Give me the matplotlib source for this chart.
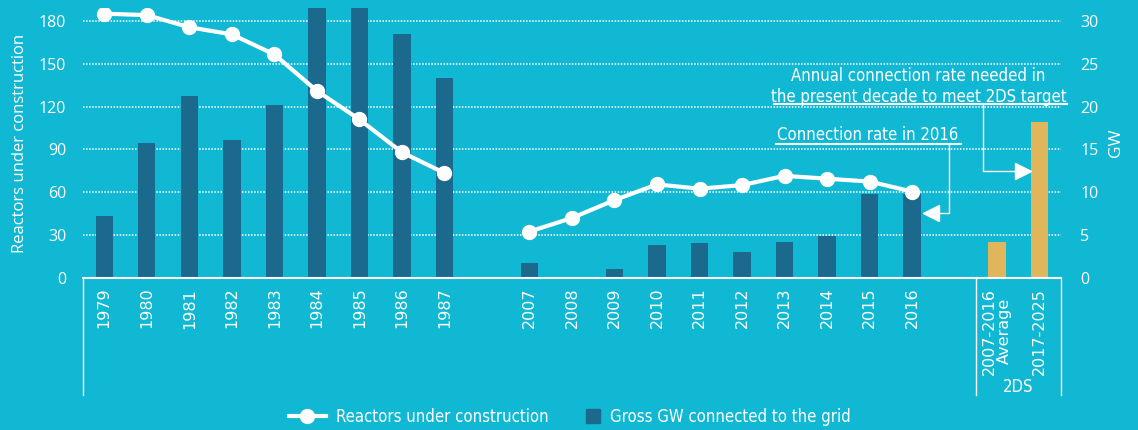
import matplotlib.pyplot as plt
from matplotlib.lines import Line2D
from matplotlib import font_manager as fm
import numpy as np

# data
years_a = ['1979', '1980', '1981', '1982', '1983', '1984', '1985', '1986', '1987']
reactors_a = [185, 184, 175.5, 170.5, 156.5, 131, 111, 88, 73.5]
gw_a = [7.2, 15.7, 21.2, 16.1, 20.2, 33, 33, 28.5, 23.3]

years_b = ['2007', '2008', '2009', '2010', '2011', '2012', '2013', '2014', '2015', '2016']
reactors_b = [32.5, 42, 54.5, 65.5, 62.5, 65, 71.5, 69.5, 67.5, 60.5]
gw_b = [1.8, 0, 1.0, 3.9, 4.1, 3.0, 4.25, 4.9, 9.8, 9.8]

ds_labels = ['2007-2016\nAverage', '2017-2025']
ds_gw = [4.2, 18.2]

bg = '#10B8D3'
bar_col = '#1B6A8E'
gold = '#E1B65B'

plt.rcParams['font.family'] = ['Open Sans', 'DejaVu Sans']

def cond(size):
    return fm.FontProperties(family='DejaVu Sans', stretch='condensed', size=size)

pos_a = np.arange(len(years_a))
pos_b = np.arange(len(years_b)) + len(years_a) + 1
pos_ds = np.arange(len(ds_gw)) + pos_b[-1] + 2

fig = plt.figure(figsize=(11.38, 4.30), dpi=100, facecolor=bg)
ax2 = fig.add_axes([0.0729, 0.3535, 0.8594, 0.628])
ax1 = ax2.twinx()
ax1.yaxis.tick_left()
ax1.yaxis.set_label_position('left')
ax2.yaxis.tick_right()
ax2.yaxis.set_label_position('right')
ax1.set_zorder(2)
ax1.patch.set_visible(False)
ax2.set_facecolor(bg)

w = 0.41
ax2.bar(pos_a, gw_a, width=w, color=bar_col, zorder=3)
ax2.bar(pos_b, gw_b, width=w, color=bar_col, zorder=3)
ax2.bar(pos_ds, ds_gw, width=w, color=gold, zorder=3)

ax1.plot(pos_a, reactors_a, color='white', lw=3, marker='o', ms=10)
ax1.plot(pos_b, reactors_b, color='white', lw=3, marker='o', ms=10)

ax1.set_xlim(-0.5, pos_ds[-1] + 0.5)
ax1.set_ylim(0, 189)
ax2.set_ylim(0, 31.5)
ax1.set_yticks(range(0, 181, 30))
ax2.set_yticks(range(0, 31, 5))

ax2.set_axisbelow(True)
ax2.yaxis.grid(True, color='white', ls=(0, (1, 1)), lw=1.1)

for a in (ax1, ax2):
    for s in a.spines.values():
        s.set_visible(False)
    a.tick_params(length=0, colors='white', labelsize=11.5)

ax1.tick_params(axis='y', pad=12)
ax2.tick_params(axis='y', pad=14)

ticks = list(pos_a) + list(pos_b) + list(pos_ds)
labels = years_a + years_b + ds_labels
ax2.set_xticks(ticks)
ax2.set_xticklabels(labels, rotation=90, fontsize=11.5, family='DejaVu Sans',
                    va='top', ha='center', multialignment='center', linespacing=1.0)
ax2.tick_params(axis='x', pad=7)

ax1.set_ylabel('Reactors under construction', color='white', fontsize=12, labelpad=8)
ax2.set_ylabel('GW', color='white', fontsize=12.5, labelpad=7)

# baseline and separators below the axis
trans = ax1.get_xaxis_transform()
ax1.plot([-0.5, pos_ds[-1] + 0.5], [0, 0], color='white', lw=1.5, transform=trans, clip_on=False)
for xs in (-0.5, pos_ds[0] - 0.5, pos_ds[-1] + 0.5):
    ax1.plot([xs, xs], [0, -0.435], color='white', lw=1, transform=trans, clip_on=False)
ax1.text(pos_ds.mean(), -0.405, '2DS', transform=trans, color='white',
         fontproperties=cond(12), ha='center', va='center')

# annotation: 2DS target
ax1.text(19.15, 134, 'Annual connection rate needed in\nthe present decade to meet 2DS target',
         color='white', fontproperties=cond(12), ha='center', va='center', linespacing=1.2)
ax1.plot([15.74, 22.64], [121.8, 121.8], color='white', lw=1.5, clip_on=False)
ax1.plot([20.66, 20.66, 21.55], [121.8, 74.9, 74.9], color='white', lw=1, clip_on=False)
ax1.plot(21.6, 74.9, marker='>', color='white', ms=11, clip_on=False)

# annotation: 2016 rate
ax1.text(17.95, 100, 'Connection rate in 2016', color='white', fontproperties=cond(12),
         ha='center', va='center')
ax1.plot([15.81, 20.14], [93.8, 93.8], color='white', lw=1.5, clip_on=False)
ax1.plot([19.86, 19.86, 19.5], [93.8, 45.5, 45.5], color='white', lw=1, clip_on=False)
ax1.plot(19.45, 45.5, marker='<', color='white', ms=11, clip_on=False)

h_line = Line2D([], [], color='white', lw=3, marker='o', ms=10)
h_bar = Line2D([], [], ls='', marker='s', ms=10, color=bar_col)
fig.legend([h_line], ['Reactors under construction'], loc='center',
           bbox_to_anchor=(0.368, 0.03), frameon=False, prop=cond(12),
           labelcolor='white', handlelength=2.2, handletextpad=0.6)
fig.legend([h_bar], ['Gross GW connected to the grid'], loc='center',
           bbox_to_anchor=(0.631, 0.03), frameon=False, prop=cond(12),
           labelcolor='white', handlelength=0.9, handletextpad=0.6)

fig.savefig('out.png', dpi=100, facecolor=bg)
